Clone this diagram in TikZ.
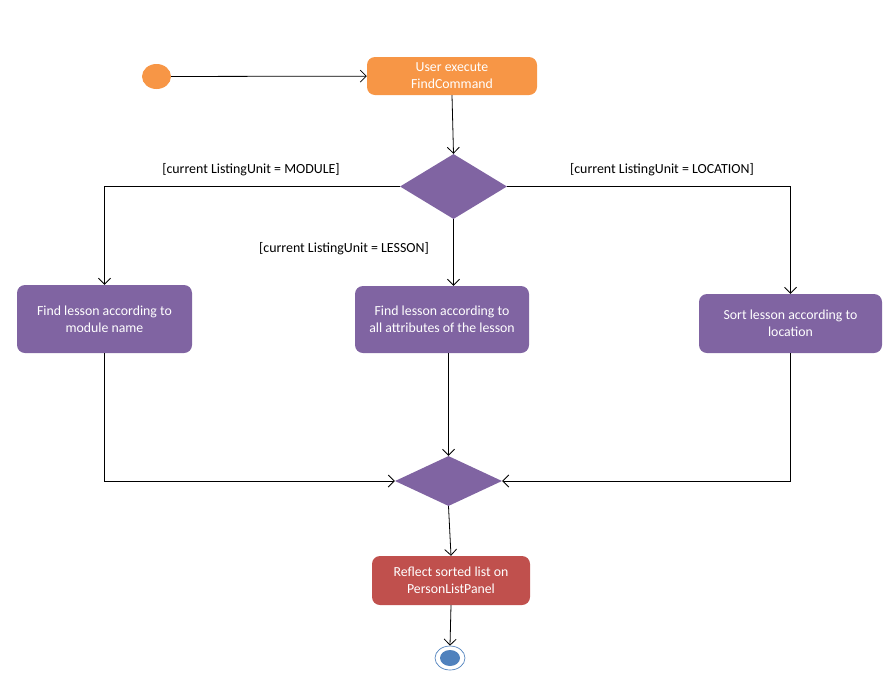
\documentclass[tikz,border=0pt]{standalone}
\usepackage{fontspec}
\setmainfont{Carlito}
\usetikzlibrary{shapes.geometric,arrows.meta}
\definecolor{actorange}{HTML}{F79646}
\definecolor{actpurple}{HTML}{8064A2}
\definecolor{actred}{HTML}{C0504D}
\definecolor{endblue}{HTML}{4F81BD}
\tikzset{
  actbox/.style={rectangle, rounded corners=8pt, draw=none, text=white,
    align=center, inner sep=2pt, font=\fontsize{13.8}{17}\selectfont},
  decision/.style={diamond, fill=actpurple, draw=none, inner sep=0pt},
  guard/.style={font=\fontsize{13.9}{16}\selectfont, inner sep=1pt},
  flow/.style={draw=black, line width=0.8pt,
    -{Straight Barb[length=6pt,width=12pt,line width=0.8pt]}},
}
\begin{document}
\begin{tikzpicture}[x=1pt,y=-1pt]
\useasboundingbox (0,0) rectangle (896,678);

% start and first action
\node[ellipse, fill=actorange, minimum width=29pt, minimum height=25pt, inner sep=0pt] (start) at (156.5,76.5) {};
\node[actbox, fill=actorange, minimum width=170pt, minimum height=38pt] (exec) at (452,76) {User execute\\FindCommand};

% branching on the listing unit
\node[decision, minimum width=107pt, minimum height=65pt] (split) at (453.5,186.5) {};
\node[actbox, fill=actpurple, minimum width=175pt, minimum height=68pt] (module) at (104.5,319) {Find lesson according to\\module name};
\node[actbox, fill=actpurple, minimum width=174pt, minimum height=67pt] (lesson) at (442,319.5) {Find lesson according to\\all attributes of the lesson};
\node[actbox, fill=actpurple, minimum width=183pt, minimum height=59pt] (location) at (790.5,323.5) {Sort lesson according to\\location};

\node[guard] (gmod) at (251,170) {[current ListingUnit = MODULE]};
\node[guard] (gloc) at (662,170) {[current ListingUnit = LOCATION]};
\node[guard] (gles) at (344,249) {[current ListingUnit = LESSON]};

% merge and final action
\node[decision, minimum width=107pt, minimum height=50pt] (merge) at (448.5,481) {};
\node[actbox, fill=actred, minimum width=158pt, minimum height=49pt] (reflect) at (451,580.5) {Reflect sorted list on\\PersonListPanel};

% final node
\node[ellipse, draw=endblue, line width=0.7pt, fill=white, minimum width=30pt, minimum height=24pt, inner sep=0pt] (finish) at (450,658) {};
\node[ellipse, fill=endblue, minimum width=20pt, minimum height=16pt, inner sep=0pt] (finishcore) at (finish.center) {};

% control flow
\draw[flow] (start) -- (exec);
\draw[flow] (exec.south) -- (split.north);
\draw[flow] (split.west) -| (module.north);
\draw[flow] (split.south) -- (split.south |- lesson.north);
\draw[flow] (split.east) -| (location.north);
\draw[flow] (module.south) |- (merge.west);
\draw[flow] (merge.north |- lesson.south) -- (merge.north);
\draw[flow] (location.south) |- (merge.east);
\draw[flow] (merge.south) -- (reflect.north);
\draw[flow] (reflect.south) -- (finish.north);
\end{tikzpicture}
\end{document}
